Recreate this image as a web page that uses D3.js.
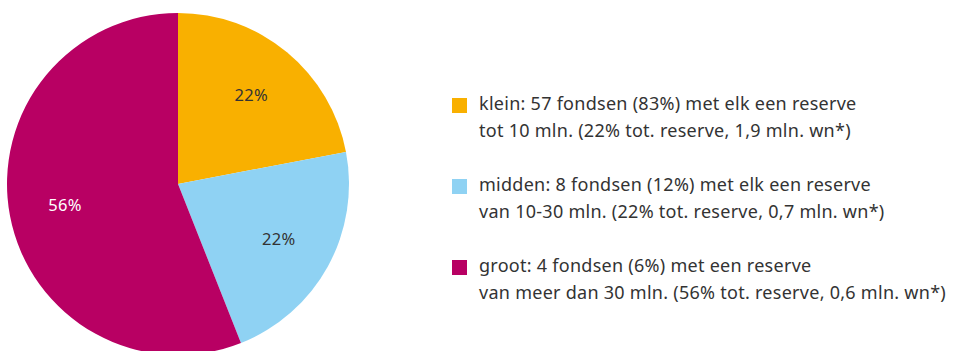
<!DOCTYPE html>
<html>
<head>
<meta charset="utf-8">
<script src="https://cdn.jsdelivr.net/npm/d3@7"></script>
<style>
  html, body { margin: 0; padding: 0; background: #fff; }
  svg { display: block; }
  text { font-family: "Noto Sans", "Open Sans", sans-serif; }
</style>
</head>
<body>
<svg id="chart" width="953" height="351"></svg>
<script>
// Share of total reserve per fund size class
const categories = ["klein", "midden", "groot"];
const shares = [22, 22, 56];
const colors = ["#f9b000", "#8fd2f3", "#b80063"];
const labelColors = ["#333333", "#333333", "#ffffff"];
const legendLines = [
  ["klein: 57 fondsen (83%) met elk een reserve", "tot 10 mln. (22% tot. reserve, 1,9 mln. wn*)"],
  ["midden: 8 fondsen (12%) met elk een reserve", "van 10-30 mln. (22% tot. reserve, 0,7 mln. wn*)"],
  ["groot: 4 fondsen (6%) met een reserve", "van meer dan 30 mln. (56% tot. reserve, 0,6 mln. wn*)"]
];

const svg = d3.select("#chart");
const cx = 178, cy = 184, r = 171;

const pie = d3.pie().sort(null).value(d => d)(shares);
const arc = d3.arc().innerRadius(0).outerRadius(r);
const labelArc = d3.arc().innerRadius(115).outerRadius(115);

const g = svg.append("g").attr("transform", `translate(${cx},${cy})`);

g.selectAll("path.slice")
  .data(pie)
  .join("path")
  .attr("class", "slice")
  .attr("d", arc)
  .attr("fill", (d, i) => colors[i]);

g.selectAll("text.pct")
  .data(pie)
  .join("text")
  .attr("class", "pct")
  .attr("transform", d => `translate(${labelArc.centroid(d)})`)
  .attr("text-anchor", "middle")
  .attr("dy", "0.35em")
  .attr("font-size", 16.5)
  .attr("letter-spacing", 0.3)
  .attr("fill", (d, i) => labelColors[i])
  .text(d => d.data + "%");

// Legend
const legendTop = [110, 191, 272];
const lineGap = 27;
const legend = svg.append("g");
categories.forEach((c, i) => {
  const y0 = legendTop[i];
  legend.append("rect")
    .attr("x", 452).attr("y", y0 - 12)
    .attr("width", 15).attr("height", 15)
    .attr("fill", colors[i]);
  legendLines[i].forEach((line, j) => {
    legend.append("text")
      .attr("x", 479).attr("y", y0 + j * lineGap)
      .attr("font-size", 18)
      .attr("letter-spacing", 0.27)
      .attr("fill", "#333333")
      .text(line);
  });
});
</script>
</body>
</html>
